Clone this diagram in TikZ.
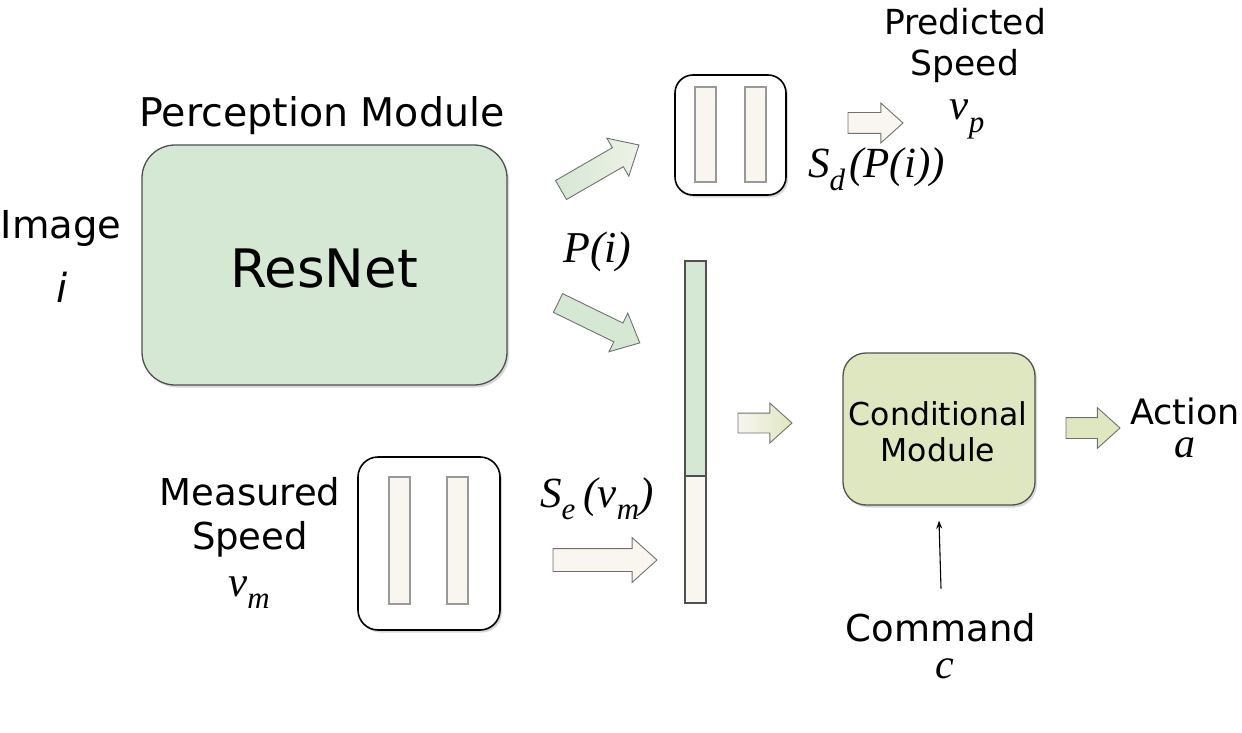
\documentclass[tikz,border=0pt]{standalone}
\usepackage{fontspec}
\usepackage{graphicx}
\setmainfont{DejaVu Sans}
\newfontfamily\tms{Liberation Serif}
\usetikzlibrary{shapes.arrows,shadows,arrows.meta}
\definecolor{pgreen}{HTML}{D5E8D4}
\definecolor{cgreen}{HTML}{DFE7C0}
\definecolor{cream}{HTML}{F8F6EE}
\definecolor{edge}{HTML}{505050}
\definecolor{agray}{HTML}{707070}
\newcommand\fs[1]{\fontsize{#1}{#1}\selectfont}
\newcommand\mth[1]{{\tms\itshape #1}}
\newcommand\sbs[1]{\raisebox{-0.3em}{\scalebox{0.72}{#1}}}
\begin{document}
\begin{tikzpicture}[x=1pt,y=-1pt,
  lbl/.style={anchor=base, inner sep=0pt},
  shad/.style={drop shadow={shadow xshift=2pt,shadow yshift=-2.5pt,fill=black!30}},
  module/.style={draw=edge, line width=1.3pt, rounded corners=#1, shad},
  codec/.style={draw=black, line width=1.6pt, fill=white, rounded corners=#1, shad},
  bar/.style={draw=black!40, line width=1.2pt, fill=cream, minimum width=21pt, inner sep=0pt},
  vbar/.style={draw=edge, line width=1.2pt, minimum width=21pt, inner sep=0pt},
  barrow/.style n args={3}{single arrow, draw=agray, line width=0.9pt, anchor=tail,
     inner xsep=0pt, inner ysep=#2, single arrow head extend=#3, minimum height=#1,
     single arrow tip angle=84, outer sep=0pt, minimum width=0pt}
]
\useasboundingbox (0,0) rectangle (1242,733);

% Perception module
\node[module=33pt, fill=pgreen, minimum width=365pt, minimum height=240pt] (perc) at (324.5,265) {};
\node[lbl] (resnet) at (324,287) {\fs{53}ResNet};
\node[lbl] (perclbl) at (322,127) {\fs{39.5}Perception Module};
\node[lbl] (imglbl) at (61,238) {\fs{38.5}Image};
\node[lbl] (imgi) at (62,302) {\fs{40}\itshape i};

% decoder
\node[codec=18pt, minimum width=111pt, minimum height=120pt] (dec) at (730.5,135) {};
\node[bar, minimum height=95pt] (decb1) at (705.5,134.5) {};
\node[bar, minimum height=95pt] (decb2) at (755.5,134.5) {};

% encoder
\node[codec=20pt, minimum width=142pt, minimum height=173pt] (enc) at (429,543.5) {};
\node[bar, minimum height=127pt] (encb1) at (399.5,540.5) {};
\node[bar, minimum height=127pt] (encb2) at (457.5,540.5) {};

% joint vector
\node[vbar, fill=pgreen, minimum height=215pt] (vtop) at (695.5,368.5) {};
\node[vbar, fill=cream, minimum height=127pt] (vbot) at (695.5,539.5) {};

% conditional module
\node[module=23pt, fill=cgreen, minimum width=192pt, minimum height=152pt] (cond) at (939,429) {};
\node[lbl] (condl1) at (938,425) {\fs{31.5}Conditional};
\node[lbl] (condl2) at (938,461) {\fs{31.5}Module};

% block arrows
\node[barrow={90pt}{10.5pt}{11pt}, rotate=30, left color=pgreen, right color=cream!70!pgreen] (a1) at (561,190) {};
\node[barrow={91pt}{10pt}{11pt}, rotate=-26, fill=pgreen] (a2) at (558,303) {};
\node[barrow={54pt}{9.5pt}{10pt}, left color=cream, right color=cgreen] (a3) at (738,423) {};
\node[barrow={104pt}{11pt}{11pt}, fill=cream] (a4) at (553,560) {};
\node[barrow={55pt}{10pt}{9.5pt}, fill=cream] (a5) at (848,123) {};
\node[barrow={54pt}{10pt}{10pt}, fill=cgreen] (a6) at (1066,428) {};

% math labels
\node[lbl, anchor=base west] (pi) at (563,262) {\fs{44}\mth{P(i)}};
\node[lbl, anchor=base west] (sd) at (808,178) {\fs{43}\mth{S}\sbs{\mth{d}}\hspace{4pt}\mth{(P(i))}};
\node[lbl, anchor=base west] (se) at (540,507) {\fs{43}\mth{S}\sbs{\mth{e}}\hspace{8pt}\mth{(v}\sbs{\mth{m}}\mth{)}};

% predicted speed
\node[lbl] (predl1) at (965,35) {\fs{34.5}Predicted};
\node[lbl] (predl2) at (965,76) {\fs{34.5}Speed};
\node[lbl] (vp) at (967,120) {\fs{43}\mth{v}\sbs{\mth{p}}};

% measured speed
\node[lbl] (measl1) at (250,505) {\fs{37}Measured};
\node[lbl] (measl2) at (250,549) {\fs{37}Speed};
\node[lbl] (vm) at (249,596) {\fs{43}\mth{v}\sbs{\mth{m}}};

% action
\node[lbl] (actl) at (1185,424) {\fs{35}Action};
\node[lbl] (acta) at (1185,457) {\fs{42}\mth{a}};

% command
\node[lbl] (cmdl) at (941,641) {\fs{37}Command};
\node[lbl] (cmdc) at (945,678) {\fs{42}\mth{c}};
\draw[-{Stealth[length=8pt,width=6pt]}, line width=1.1pt] ([yshift=24pt]cmdl.north) -- ([yshift=-15pt]cond.south);
\end{tikzpicture}
\end{document}
